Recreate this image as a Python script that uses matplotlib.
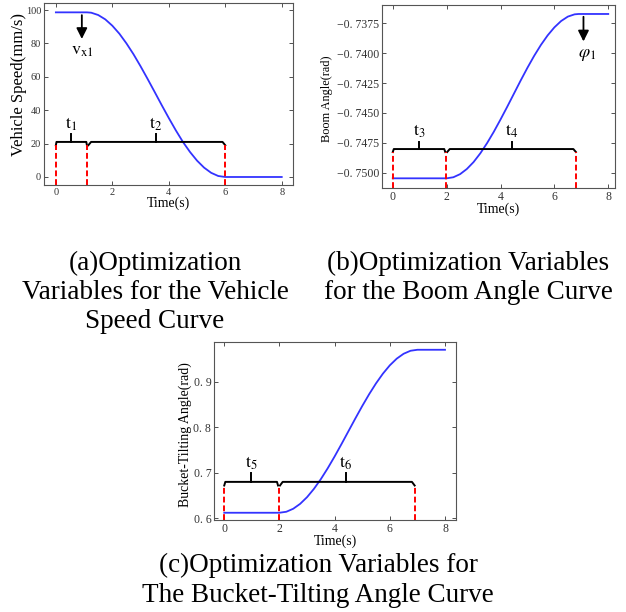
import numpy as np
import matplotlib
matplotlib.use('Agg')
import matplotlib.pyplot as plt
from matplotlib.ticker import FuncFormatter

plt.rcParams['font.family'] = ['Liberation Serif', 'DejaVu Serif']
plt.rcParams['mathtext.fontset'] = 'stix'

# (a) vehicle speed
t_a = [0, 0.5, 1.0, 1.1, 1.25, 1.5, 1.75, 2.0, 2.25, 2.5, 2.75, 3.0, 3.25, 3.5, 3.75,
       4.0, 4.25, 4.5, 4.75, 5.0, 5.25, 5.5, 5.75, 6.0, 7.0, 8.0]
v_a = [98.6, 98.6, 98.6, 98.6, 98.4, 97.0, 94.4, 90.6, 85.8, 80.0, 73.5, 66.3, 58.7, 50.9, 43.0,
       35.3, 27.9, 21.0, 15.0, 9.8, 5.6, 2.5, 0.6, 0.0, 0.0, 0.0]

# (b) boom angle
t_b = [0, 1.0, 2.0, 2.25, 2.5, 2.75, 3.0, 3.25, 3.5, 3.75, 4.0, 4.25, 4.5, 4.75, 5.0,
       5.25, 5.5, 5.75, 6.0, 6.25, 6.5, 6.75, 6.9, 7.5, 8.0]
v_b = [-0.75047, -0.75047, -0.75047, -0.75038, -0.75012, -0.74969, -0.74911, -0.74838,
       -0.74753, -0.74658, -0.74555, -0.74448, -0.74338, -0.74228, -0.74122, -0.74022,
       -0.73931, -0.73851, -0.73784, -0.73731, -0.73694, -0.73675, -0.73672, -0.73672, -0.73672]

# (c) bucket-tilting angle
t_c = [0, 1.0, 2.0, 2.25, 2.5, 2.75, 3.0, 3.25, 3.5, 3.75, 4.0, 4.25, 4.5, 4.75, 5.0,
       5.25, 5.5, 5.75, 6.0, 6.25, 6.5, 6.75, 7.0, 7.5, 8.0]
v_c = [0.612, 0.612, 0.612, 0.6142, 0.6208, 0.6316, 0.6463, 0.6646, 0.6860, 0.7100, 0.7360,
       0.7634, 0.7915, 0.8196, 0.8470, 0.8730, 0.8970, 0.9184, 0.9367, 0.9514, 0.9622,
       0.9688, 0.9710, 0.9710, 0.9710]

# brackets: (start, end, tick x, label)
br_a = [(0, 1.1, 0.55, r'$\mathrm{t}_1$'), (1.15, 6.0, 3.55, r'$\mathrm{t}_2$')]
br_b = [(0, 1.95, 0.99, r'$\mathrm{t}_3$'), (2.02, 6.8, 4.41, r'$\mathrm{t}_4$')]
br_c = [(0, 1.95, 0.97, r'$\mathrm{t}_5$'), (2.02, 6.9, 4.41, r'$\mathrm{t}_6$')]
dash_a = [0, 1.1, 6.0]
dash_b = [0, 1.98, 6.8]
dash_c = [0, 1.98, 6.9]

GRAY = '#555555'
BLUE = '#3333ff'


def setup(ax, xlim, ylim, yticks, ylabel, tsize, lsize, lx, ly, fmt=None):
    ax.set_xlim(*xlim)
    ax.set_ylim(*ylim)
    ax.set_xticks([0, 2, 4, 6, 8])
    ax.set_yticks(yticks)
    if fmt:
        ax.yaxis.set_major_formatter(FuncFormatter(fmt))
    ax.tick_params(direction='in', top=True, right=True, labelsize=tsize, colors='#333333',
                   length=3, width=0.6, pad=2)
    for s in ax.spines.values():
        s.set_color(GRAY)
        s.set_linewidth(0.8)
    ax.set_xlabel('Time(s)', fontsize=10, labelpad=0)
    ax.set_ylabel(ylabel, fontsize=lsize)
    ax.yaxis.set_label_coords(lx, ly)


def brackets(ax, brs, dashes, y, hook, tick, lab_dy, y0):
    for a, b, m, lab in brs:
        e = (b - a) * 0.02
        ax.plot([a, a + e, b - e, b], [y - hook, y, y, y - hook], color='black', lw=1.4)
        ax.plot([m, m], [y, y + tick], color='black', lw=1.4)
        ax.text(m, y + lab_dy, lab, ha='center', va='bottom', fontsize=13)
    for x in dashes:
        ax.plot([x, x], [y0, y - hook], color='red', lw=1.4, ls=(0, (3, 1.5)))


fig = plt.figure(figsize=(6.26, 6.12), dpi=100)

# (a)
ax1 = fig.add_axes([0.0703, 0.6977, 0.3978, 0.2974])
ax1.plot(t_a, v_a, color=BLUE, lw=1.3)
setup(ax1, (-0.42, 8.4), (-4.8, 104.2), [0, 20, 40, 60, 80, 100], 'Vehicle Speed(mm/s)',
      7.5, 12, -0.068, 0.55)
brackets(ax1, br_a, dash_a, 21, 2.0, 5.0, 5.5, -4.8)
ax1.annotate('', xy=(0.92, 81), xytext=(0.92, 98.6),
             arrowprops=dict(arrowstyle='-|>', color='black', lw=1.3, mutation_scale=16))
ax1.text(0.95, 76, r'$\mathrm{v}_{\mathrm{x1}}$', ha='center', va='center', fontsize=13)

# (b)
ax2 = fig.add_axes([0.6102, 0.6928, 0.3722, 0.2990])
ax2.plot(t_b, v_b, color=BLUE, lw=1.3)
setup(ax2, (-0.4, 8.25), (-0.75128, -0.73597),
      [-0.7500, -0.7475, -0.7450, -0.7425, -0.7400, -0.7375], 'Boom Angle(rad)',
      8.5, 8.8, -0.21, 0.49,
      fmt=lambda v, p: ('\u22120. %04d' % round(-v * 10000)))
brackets(ax2, br_b, dash_b, -0.74802, 0.00025, 0.0006, 0.00075, -0.75128)
ax2.annotate('', xy=(7.08, -0.73925), xytext=(7.08, -0.73672),
             arrowprops=dict(arrowstyle='-|>', color='black', lw=1.3, mutation_scale=16))
ax2.text(7.2, -0.7401, r'$\varphi_1$', ha='center', va='center', fontsize=13)

# (c)
ax3 = fig.add_axes([0.3419, 0.1503, 0.3866, 0.2908])
ax3.plot(t_c, v_c, color=BLUE, lw=1.3)
setup(ax3, (-0.37, 8.4), (0.596, 0.988), [0.6, 0.7, 0.8, 0.9], 'Bucket-Tilting Angle(rad)',
      8.5, 10, -0.091, 0.48,
      fmt=lambda v, p: '0. %d' % round(v * 10))
brackets(ax3, br_c, dash_c, 0.68, 0.008, 0.02, 0.022, 0.596)

# captions
cap = dict(ha='center', va='center', fontsize=19.5, linespacing=1.22)
fig.text(155 / 626, 1 - 292.5 / 612, '(a)Optimization\nVariables for the Vehicle\nSpeed Curve', **cap)
fig.text(468 / 626, 1 - 278 / 612, '(b)Optimization Variables\nfor the Boom Angle Curve', **cap)
fig.text(318 / 626, 1 - 580.5 / 612, '(c)Optimization Variables for\nThe Bucket-Tilting Angle Curve', **cap)

fig.savefig('out.png', dpi=100)
